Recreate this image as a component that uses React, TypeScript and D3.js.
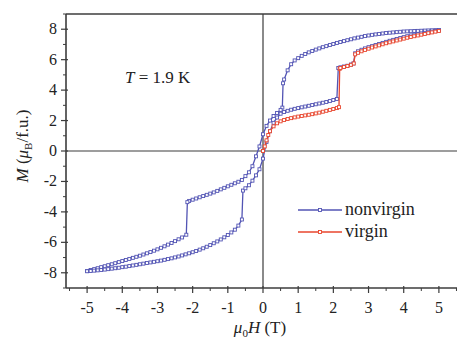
import React from "react";
import * as d3 from "d3";

// Nonvirgin loop: descending branch (+5 T -> -5 T)
const descH = [5.0,4.9,4.8,4.7,4.6,4.5,4.4,4.3,4.2,4.1,4.0,3.9,3.8,3.7,3.6,3.5,3.4,3.3,3.2,3.1,3.0,2.9,2.8,2.7,2.6,2.5,2.4,2.3,2.2,2.1,2.0,1.9,1.8,1.7,1.6,1.5,1.4,1.3,1.2,1.1,1.0,0.9,0.8,0.7,0.6,0.57,0.55,0.5,0.4,0.3,0.2,0.1,0.0,-0.1,-0.2,-0.3,-0.4,-0.5,-0.6,-0.7,-0.8,-0.9,-1.0,-1.1,-1.2,-1.3,-1.4,-1.5,-1.6,-1.7,-1.8,-1.9,-2.0,-2.1,-2.15,-2.18,-2.3,-2.4,-2.5,-2.6,-2.7,-2.8,-2.9,-3.0,-3.1,-3.2,-3.3,-3.4,-3.5,-3.6,-3.7,-3.8,-3.9,-4.0,-4.1,-4.2,-4.3,-4.4,-4.5,-4.6,-4.7,-4.8,-4.9,-5.0];
const descM = [7.95,7.94,7.93,7.92,7.91,7.90,7.89,7.88,7.87,7.86,7.85,7.83,7.81,7.79,7.77,7.75,7.72,7.69,7.66,7.63,7.59,7.55,7.5,7.45,7.4,7.34,7.28,7.22,7.16,7.1,7.03,6.96,6.89,6.82,6.74,6.66,6.57,6.48,6.37,6.25,6.1,5.95,5.7,5.3,4.7,4.45,2.85,2.7,2.5,2.3,2.0,1.65,1.1,0.3,-0.35,-1.0,-1.4,-1.65,-1.9,-2.02,-2.12,-2.22,-2.32,-2.42,-2.52,-2.62,-2.72,-2.8,-2.88,-2.96,-3.04,-3.12,-3.2,-3.28,-3.36,-5.5,-5.68,-5.8,-5.92,-6.04,-6.15,-6.26,-6.36,-6.46,-6.55,-6.64,-6.72,-6.8,-6.88,-6.95,-7.02,-7.09,-7.16,-7.23,-7.3,-7.37,-7.44,-7.5,-7.57,-7.63,-7.7,-7.76,-7.82,-7.88];

// Nonvirgin loop: ascending branch (-5 T -> +5 T)
const ascH = [-5.0,-4.9,-4.8,-4.7,-4.6,-4.5,-4.4,-4.3,-4.2,-4.1,-4.0,-3.9,-3.8,-3.7,-3.6,-3.5,-3.4,-3.3,-3.2,-3.1,-3.0,-2.9,-2.8,-2.7,-2.6,-2.5,-2.4,-2.3,-2.2,-2.1,-2.0,-1.9,-1.8,-1.7,-1.6,-1.5,-1.4,-1.3,-1.2,-1.1,-1.0,-0.9,-0.8,-0.7,-0.6,-0.57,-0.5,-0.4,-0.3,-0.2,-0.1,0.0,0.1,0.2,0.3,0.4,0.5,0.6,0.7,0.8,0.9,1.0,1.1,1.2,1.3,1.4,1.5,1.6,1.7,1.8,1.9,2.0,2.1,2.14,2.2,2.3,2.4,2.5,2.57,2.62,2.7,2.8,2.9,3.0,3.1,3.2,3.3,3.4,3.5,3.6,3.7,3.8,3.9,4.0,4.1,4.2,4.3,4.4,4.5,4.6,4.7,4.8,4.9,5.0];
const ascM = [-7.9,-7.88,-7.86,-7.84,-7.82,-7.79,-7.76,-7.73,-7.7,-7.67,-7.63,-7.6,-7.56,-7.52,-7.48,-7.44,-7.4,-7.36,-7.32,-7.28,-7.24,-7.2,-7.15,-7.1,-7.05,-6.99,-6.93,-6.86,-6.79,-6.72,-6.65,-6.57,-6.48,-6.39,-6.29,-6.18,-6.06,-5.94,-5.81,-5.67,-5.52,-5.35,-5.17,-4.9,-4.5,-2.6,-2.45,-2.25,-1.95,-1.6,-1.2,-0.5,0.6,1.3,1.85,2.2,2.45,2.56,2.64,2.71,2.77,2.82,2.87,2.92,2.97,3.02,3.07,3.12,3.17,3.22,3.28,3.35,3.42,5.45,5.5,5.55,5.6,5.68,5.75,6.42,6.55,6.65,6.74,6.82,6.89,6.96,7.03,7.1,7.17,7.24,7.3,7.36,7.42,7.48,7.54,7.59,7.64,7.68,7.72,7.76,7.8,7.84,7.88,7.93];

// Virgin curve (0 T -> +5 T)
const virH = [0.0,0.05,0.1,0.15,0.2,0.3,0.4,0.5,0.6,0.7,0.8,0.9,1.0,1.1,1.2,1.3,1.4,1.5,1.6,1.7,1.8,1.9,2.0,2.1,2.16,2.18,2.2,2.3,2.4,2.5,2.58,2.62,2.7,2.8,2.9,3.0,3.1,3.2,3.3,3.4,3.5,3.6,3.7,3.8,3.9,4.0,4.1,4.2,4.3,4.4,4.5,4.6,4.7,4.8,4.9,5.0];
const virM = [0.0,0.3,0.7,1.05,1.3,1.62,1.82,1.95,2.04,2.1,2.16,2.21,2.26,2.3,2.34,2.38,2.42,2.47,2.52,2.58,2.64,2.7,2.76,2.82,2.88,5.4,5.45,5.52,5.58,5.66,5.75,6.35,6.45,6.55,6.64,6.72,6.8,6.87,6.94,7.01,7.08,7.14,7.2,7.26,7.32,7.38,7.44,7.49,7.54,7.59,7.64,7.69,7.74,7.79,7.84,7.88];

const xTicks = [-5, -4, -3, -2, -1, 0, 1, 2, 3, 4, 5];
const yTicks = [-8, -6, -4, -2, 0, 2, 4, 6, 8];
const legendLabels = ["nonvirgin", "virgin"];

const BLUE = "#5254b4";
const RED = "#e8462e";
const AX = "#3c3c3c";
const SERIF = "'Liberation Serif', 'Times New Roman', Times, serif";

export default function App() {
  const x = d3.scaleLinear().domain([-5.6, 5.6]).range([66, 460]);
  const y = d3.scaleLinear().domain([-9, 9]).range([288, 14]);
  const line = d3.line<[number, number]>().x(d => x(d[0])).y(d => y(d[1]));

  const nonvirgin: [number, number][] = [
    ...descH.map((h, i) => [h, descM[i]] as [number, number]),
    ...ascH.map((h, i) => [h, ascM[i]] as [number, number]),
  ];
  const virgin: [number, number][] = virH.map((h, i) => [h, virM[i]]);

  const xMinor = d3.range(-5.5, 5.6, 0.5).filter(v => Math.abs(v % 1) > 0.1);
  const yMinor = d3.range(-9, 9.1, 1).filter(v => Math.abs(v % 2) > 0.1);

  const series = [
    { data: nonvirgin, color: BLUE },
    { data: virgin, color: RED },
  ];

  const txt = { fontFamily: SERIF, fill: "#222" } as React.CSSProperties;
  const ms = 3;
  return (
    <svg width={457} height={340} style={{ position: "absolute", left: 0, top: 0, background: "#fff" }}>
      {/* frame */}
      <line x1={x(-5.6)} x2={457} y1={y(9)} y2={y(9)} stroke={AX} strokeWidth={1.6} />
      <line x1={x(-5.6)} x2={x(-5.6)} y1={y(9)} y2={y(-9)} stroke={AX} strokeWidth={1.6} />
      <line x1={x(-5.6)} x2={457} y1={y(-9)} y2={y(-9)} stroke={AX} strokeWidth={1.6} />
      {/* zero lines */}
      <line x1={x(0)} x2={x(0)} y1={y(9)} y2={y(-9)} stroke={AX} strokeWidth={1.2} />
      <line x1={x(-5.6)} x2={457} y1={y(0)} y2={y(0)} stroke={AX} strokeWidth={1.2} />
      {/* x ticks */}
      {xTicks.map(t => (
        <g key={"xt" + t}>
          <line x1={x(t)} x2={x(t)} y1={y(-9) - 2} y2={y(-9) + 5} stroke={AX} strokeWidth={1.2} />
          <text x={x(t)} y={313} textAnchor="middle" style={{ ...txt, fontSize: 16 }}>{String(t)}</text>
        </g>
      ))}
      {xMinor.map(t => (
        <line key={"xm" + t} x1={x(t)} x2={x(t)} y1={y(-9)} y2={y(-9) + 3} stroke={AX} strokeWidth={1} />
      ))}
      {/* y ticks */}
      {yTicks.map(t => (
        <g key={"yt" + t}>
          <line x1={x(-5.6) - 5} x2={x(-5.6) + 2} y1={y(t)} y2={y(t)} stroke={AX} strokeWidth={1.2} />
          <text x={57} y={y(t) + 5} textAnchor="end" style={{ ...txt, fontSize: 16 }}>{String(t)}</text>
        </g>
      ))}
      {yMinor.map(t => (
        <line key={"ym" + t} x1={x(-5.6) - 3} x2={x(-5.6)} y1={y(t)} y2={y(t)} stroke={AX} strokeWidth={1} />
      ))}
      {/* series */}
      {series.map((s, si) => (
        <g key={"s" + si}>
          <path d={line(s.data) || ""} fill="none" stroke={s.color} strokeWidth={1.3} />
          {s.data.map((d, i) => (
            <rect key={i} x={x(d[0]) - ms / 2} y={y(d[1]) - ms / 2} width={ms} height={ms}
              fill="#fff" stroke={s.color} strokeWidth={0.9} />
          ))}
        </g>
      ))}
      {/* annotation */}
      <text x={125} y={83} style={{ ...txt, fontSize: 17 }}>
        <tspan fontStyle="italic">T</tspan> = 1.9 K
      </text>
      {/* legend */}
      {legendLabels.map((lab, i) => (
        <g key={lab}>
          <line x1={298} x2={342} y1={210 + i * 22} y2={210 + i * 22} stroke={i === 0 ? BLUE : RED} strokeWidth={1.5} />
          <rect x={320 - 1.5} y={210 + i * 22 - 1.5} width={3} height={3} fill="#fff" stroke={i === 0 ? BLUE : RED} strokeWidth={0.9} />
          <text x={345} y={215 + i * 22} style={{ ...txt, fontSize: 18 }}>{lab}</text>
        </g>
      ))}
      {/* axis titles */}
      <text x={260} y={333} textAnchor="middle" style={{ ...txt, fontSize: 17 }}>
        <tspan fontStyle="italic">μ</tspan><tspan fontSize={11} dy={4}>0</tspan><tspan fontStyle="italic" dy={-4}>H</tspan> (T)
      </text>
      <text transform="translate(28,146) rotate(-90)" textAnchor="middle" style={{ ...txt, fontSize: 17 }}>
        <tspan fontStyle="italic">M</tspan> (<tspan fontStyle="italic">μ</tspan><tspan fontSize={11} dy={4}>B</tspan><tspan dy={-4}>/f.u.)</tspan>
      </text>
    </svg>
  );
}
